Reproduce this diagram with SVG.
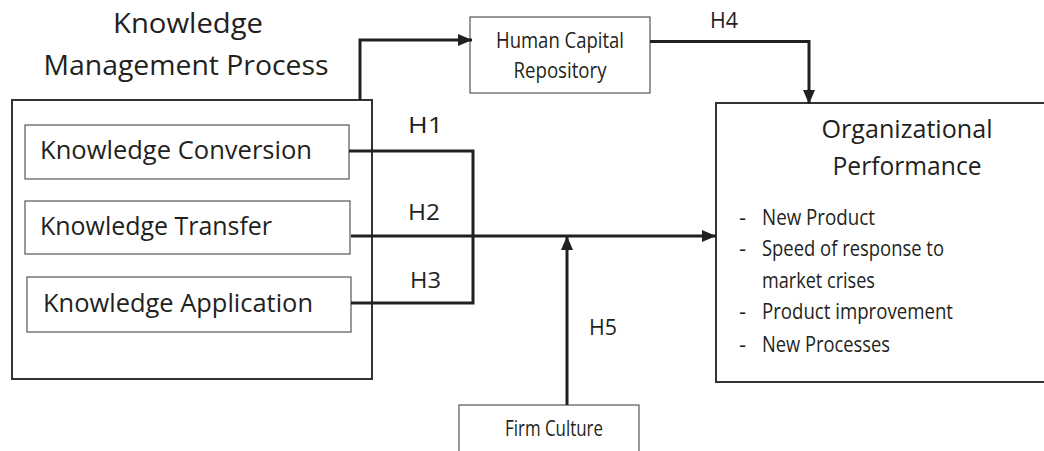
<svg xmlns="http://www.w3.org/2000/svg" width="1044" height="451" viewBox="0 0 1044 451">
<style>
text{font-family:"Open Sans","Noto Sans","Liberation Sans",sans-serif;fill:#231f20}
.thin{fill:#fff;stroke:#555;stroke-width:1.2}
.bold{fill:#fff;stroke:#333;stroke-width:2}
.conn{fill:none;stroke:#231f20;stroke-width:3}
.mid{text-anchor:middle}
</style>
<defs>
<marker id="ah" markerUnits="userSpaceOnUse" markerWidth="14" markerHeight="12" viewBox="0 0 14 12" refX="14" refY="6" orient="auto">
<path d="M0,0 L14,6 L0,12 Z" fill="#231f20"/>
</marker>
</defs>
<rect width="1044" height="451" fill="#fff"/>
<g id="kmp">
<rect class="bold" x="12" y="100" width="360" height="279"/>
<text class="mid" x="188" y="33" font-size="28" textLength="150" lengthAdjust="spacingAndGlyphs">Knowledge</text>
<text class="mid" x="186" y="75" font-size="28" textLength="285" lengthAdjust="spacingAndGlyphs">Management Process</text>
</g>
<g id="conversion">
<rect class="thin" x="25" y="125" width="324" height="54"/>
<text x="40" y="159" font-size="26" textLength="272" lengthAdjust="spacingAndGlyphs">Knowledge Conversion</text>
</g>
<g id="transfer">
<rect class="thin" x="25" y="201" width="325" height="53"/>
<text x="40" y="235" font-size="26" textLength="232" lengthAdjust="spacingAndGlyphs">Knowledge Transfer</text>
</g>
<g id="application">
<rect class="thin" x="27" y="277" width="324" height="55"/>
<text x="43" y="312" font-size="26" textLength="270" lengthAdjust="spacingAndGlyphs">Knowledge Application</text>
</g>
<g id="hcr">
<rect class="thin" x="470" y="17" width="180" height="76"/>
<text class="mid" x="560" y="48" font-size="21" textLength="128" lengthAdjust="spacingAndGlyphs">Human Capital</text>
<text class="mid" x="560" y="78" font-size="21" textLength="93" lengthAdjust="spacingAndGlyphs">Repository</text>
</g>
<g id="op">
<rect class="bold" x="716" y="103" width="340" height="279"/>
<text class="mid" x="907" y="138" font-size="26" textLength="171" lengthAdjust="spacingAndGlyphs">Organizational</text>
<text class="mid" x="907" y="175" font-size="26" textLength="149" lengthAdjust="spacingAndGlyphs">Performance</text>
<g font-size="22">
<text x="739" y="225">-</text>
<text x="762" y="225" textLength="113" lengthAdjust="spacingAndGlyphs">New Product</text>
<text x="739" y="256">-</text>
<text x="762" y="256" textLength="182" lengthAdjust="spacingAndGlyphs">Speed of response to</text>
<text x="762" y="288" textLength="113" lengthAdjust="spacingAndGlyphs">market crises</text>
<text x="739" y="319">-</text>
<text x="762" y="319" textLength="191" lengthAdjust="spacingAndGlyphs">Product improvement</text>
<text x="739" y="352">-</text>
<text x="762" y="352" textLength="128" lengthAdjust="spacingAndGlyphs">New Processes</text>
</g>
</g>
<g id="culture">
<rect class="thin" x="459" y="405" width="180" height="60"/>
<text class="mid" x="554" y="436" font-size="21" textLength="98" lengthAdjust="spacingAndGlyphs">Firm Culture</text>
</g>
<g id="connectors">
<path class="conn" d="M360,100 V40 H472" marker-end="url(#ah)"/>
<path class="conn" d="M650,41.5 H809 V104" marker-end="url(#ah)"/>
<path class="conn" d="M349,151 H473 V303 H351"/>
<path class="conn" d="M351,236 H716" marker-end="url(#ah)"/>
<path class="conn" d="M567,405 V236" marker-end="url(#ah)"/>
<g font-size="22">
<text x="408" y="133" textLength="35" lengthAdjust="spacingAndGlyphs">H1</text>
<text x="408" y="220" textLength="32" lengthAdjust="spacingAndGlyphs">H2</text>
<text x="410" y="288" textLength="31" lengthAdjust="spacingAndGlyphs">H3</text>
<text x="710" y="28" textLength="28" lengthAdjust="spacingAndGlyphs">H4</text>
<text x="589" y="335" textLength="28" lengthAdjust="spacingAndGlyphs">H5</text>
</g>
</g>
</svg>
